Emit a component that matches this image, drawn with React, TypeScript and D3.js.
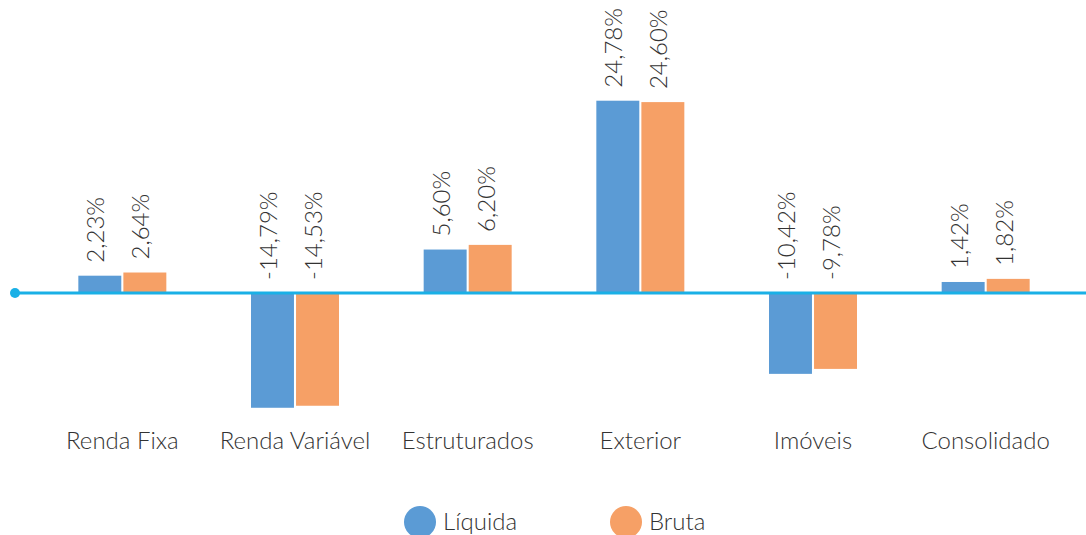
import React from 'react';
import * as d3 from 'd3';

const categories = ['Renda Fixa', 'Renda Variável', 'Estruturados', 'Exterior', 'Imóveis', 'Consolidado'];
const liquida = [2.23, -14.79, 5.6, 24.78, -10.42, 1.42];
const bruta = [2.64, -14.53, 6.2, 24.6, -9.78, 1.82];
const seriesNames = ['Líquida', 'Bruta'];
const seriesColors = ['#5b9bd5', '#f6a066'];

const width = 1086;
const height = 535;
const font = 'Lato, "Open Sans", sans-serif';
const fontSize = 24;

const fmt = (v: number) => v.toFixed(2).replace('.', ',') + '%';

const App: React.FC = () => {
  const x = d3.scaleBand<string>().domain(categories).range([36, 1072]);
  const inner = d3.scaleBand<number>().domain([0, 1]).range([-44, 44]).paddingInner(0.046);
  const y = d3.scaleLinear().domain([-20, 30]).range([448.2, 60.2]);
  const zero = y(0);
  const series = [liquida, bruta];

  return (
    <svg width={width} height={height} style={{ position: 'absolute', top: 0, left: 0, display: 'block' }}>
      {categories.map((c, i) => {
        const cx = x(c)! + x.bandwidth() / 2;
        return (
          <g key={c}>
            {series.map((s, k) => {
              const v = s[i];
              const bx = cx + inner(k)!;
              const bw = inner.bandwidth();
              const top = Math.min(y(v), zero);
              const h = Math.abs(y(v) - zero);
              const labelY = (v >= 0 ? y(v) : zero) - 13;
              const lx = bx + bw / 2 - 4;
              return (
                <g key={k}>
                  <rect x={bx} y={top} width={bw} height={h} fill={seriesColors[k]} />
                  <text
                    transform={`translate(${lx},${labelY}) rotate(-90)`}
                    dy="0.35em"
                    fontFamily={font}
                    fontSize={fontSize}
                    fontWeight={300}
                    fill="#333"
                  >
                    {fmt(v)}
                  </text>
                </g>
              );
            })}
            <text x={cx} y={441} dy="0.35em" textAnchor="middle" fontFamily={font} fontSize={fontSize} fontWeight={300} fill="#333">
              {c}
            </text>
          </g>
        );
      })}
      <line x1={15} x2={width} y1={zero} y2={zero} stroke="#1ab0e6" strokeWidth={3} />
      <circle cx={15} cy={zero} r={5} fill="#1ab0e6" />
      {seriesNames.map((n, k) => {
        const lx = [420, 626][k];
        return (
          <g key={n}>
            <circle cx={lx} cy={522} r={16} fill={seriesColors[k]} />
            <text x={lx + 23} y={522} dy="0.35em" fontFamily={font} fontSize={fontSize} fontWeight={300} fill="#333">
              {n}
            </text>
          </g>
        );
      })}
    </svg>
  );
};

export default App;
